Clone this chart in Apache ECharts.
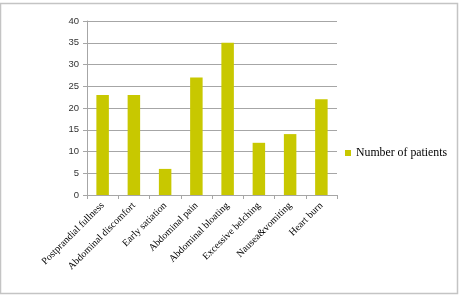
<!DOCTYPE html>
<html>
<head>
<meta charset="utf-8">
<script src="https://cdn.jsdelivr.net/npm/echarts@6/dist/echarts.min.js"></script>
<style>
  html, body { margin: 0; padding: 0; background: #fff; }
  #chart { width: 462px; height: 296px; }
</style>
</head>
<body>
<div id="chart"></div>
<script>
// symptoms and patient counts
var symptoms = ['Postprandial fullness', 'Abdominal discomfort', 'Early satiation', 'Abdominal pain',
                'Abdominal bloating', 'Excessive belching', 'Nausea&vomiting', 'Heart burn'];
var patients = [23, 23, 6, 27, 35, 12, 14, 22];
var seriesName = 'Number of patients';

var chart = echarts.init(document.getElementById('chart'));
chart.setOption({
  animation: false,
  graphic: [{
    type: 'rect',
    shape: { x: 0.5, y: 3.5, width: 457, height: 290 },
    style: { fill: 'none', stroke: '#c4c4c4', lineWidth: 1.5 },
    silent: true
  }],
  legend: {
    data: [seriesName],
    left: 340,
    top: 142,
    orient: 'vertical',
    itemWidth: 6,
    itemHeight: 6,
    itemGap: 4,
    icon: 'rect',
    textStyle: { fontFamily: 'Liberation Serif', fontSize: 11.8, color: '#000' }
  },
  grid: { left: 87, right: 125, top: 21, bottom: 101 },
  xAxis: {
    type: 'category',
    data: symptoms,
    axisLine: { lineStyle: { color: '#a6a6a6' } },
    axisTick: { show: true, length: 4, lineStyle: { color: '#a6a6a6' } },
    axisLabel: {
      rotate: 45,
      interval: 0,
      margin: 9,
      fontFamily: 'Liberation Serif',
      fontSize: 10,
      color: '#000'
    }
  },
  yAxis: {
    type: 'value',
    min: 0,
    max: 40,
    interval: 5,
    axisLine: { show: true, lineStyle: { color: '#a6a6a6' } },
    axisTick: { show: true, length: 4, lineStyle: { color: '#a6a6a6' } },
    splitLine: { lineStyle: { color: '#a6a6a6' } },
    axisLabel: { fontFamily: 'Liberation Sans', fontSize: 9.5, color: '#333', margin: 8 }
  },
  series: [{
    name: seriesName,
    type: 'bar',
    data: patients,
    barWidth: 12.5,
    itemStyle: { color: '#c8c800' }
  }]
});
</script>
</body>
</html>
